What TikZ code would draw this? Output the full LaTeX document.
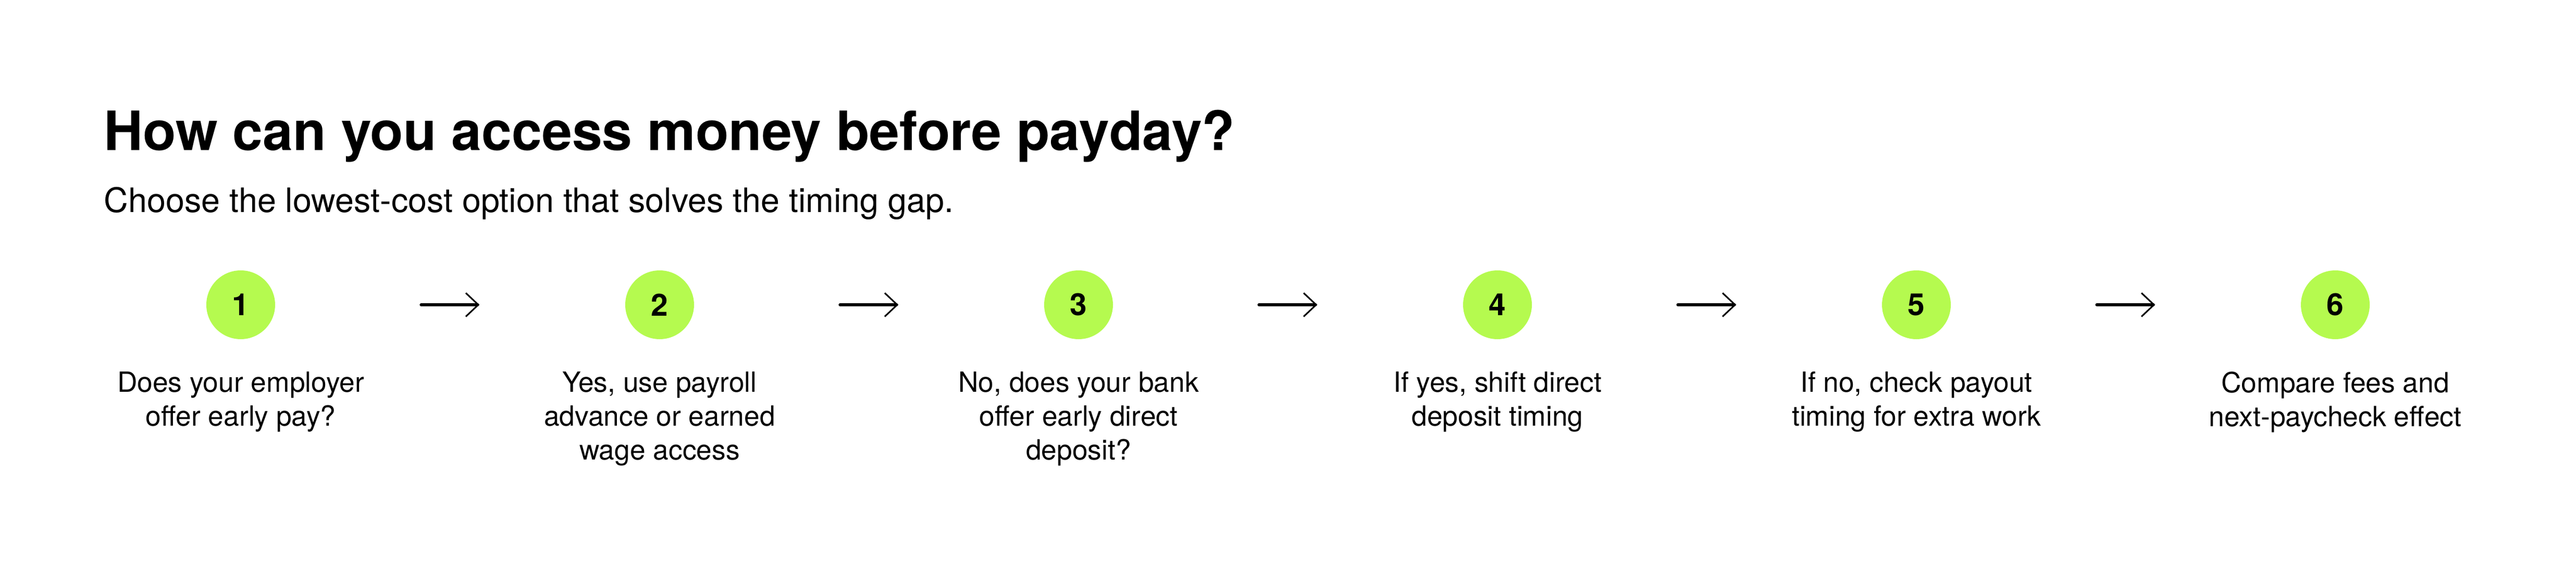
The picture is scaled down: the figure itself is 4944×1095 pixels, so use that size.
\documentclass[tikz,border=0pt]{standalone}
\usepackage{fontspec}
\setmainfont{TeX Gyre Heros}
\usetikzlibrary{arrows.meta}
\definecolor{stepgreen}{RGB}{181,250,79}
\tikzset{every picture/.style={line width=0.75pt}}

\begin{document}
\begin{tikzpicture}[x=0.15pt,y=0.15pt,yscale=-1,xscale=1,
  stepdot/.style={circle,fill=stepgreen,minimum size=19.8pt,inner sep=0pt,font=\bfseries\fontsize{8.8}{10}\selectfont},
  steptext/.style={anchor=north,align=center,inner sep=0pt,font=\fontsize{8}{9.75}\selectfont},
  flow/.style={line width=0.95pt,line cap=round,-{Straight Barb[length=3.6pt,width=6.8pt,line width=0.45pt]},shorten <=41.7pt,shorten >=41.6pt}]
%set diagram left start at 0, and has height of 1095
\useasboundingbox (0,0) rectangle (4944,1095);

% Text Node
\node (title) at (197,288) [anchor=base west,inner sep=0pt,font=\bfseries\fontsize{15.6}{18}\selectfont] {How can you access money before payday?};
% Text Node
\node (subtitle) at (197,407) [anchor=base west,inner sep=0pt,font=\fontsize{9.7}{12}\selectfont] {Choose the lowest-cost option that solves the timing gap.};

%Shape: Circle
\node (c1) at (462,585) [stepdot] {1};
%Shape: Circle
\node (c2) at (1266,585) [stepdot] {2};
%Shape: Circle
\node (c3) at (2070,585) [stepdot] {3};
%Shape: Circle
\node (c4) at (2874,585) [stepdot] {4};
%Shape: Circle
\node (c5) at (3678,585) [stepdot] {5};
%Shape: Circle
\node (c6) at (4482,585) [stepdot] {6};

%Straight Lines
\draw [flow] (c1) -- (c2);
%Straight Lines
\draw [flow] (c2) -- (c3);
%Straight Lines
\draw [flow] (c3) -- (c4);
%Straight Lines
\draw [flow] (c4) -- (c5);
%Straight Lines
\draw [flow] (c5) -- (c6);

% Text Node
\node (t1) at (462,711) [steptext] {Does your employer\\offer early pay?};
% Text Node
\node (t2) at (1266,711) [steptext] {Yes, use payroll\\advance or earned\\wage access};
% Text Node
\node (t3) at (2070,711) [steptext] {No, does your bank\\offer early direct\\deposit?};
% Text Node
\node (t4) at (2874,711) [steptext] {If yes, shift direct\\deposit timing};
% Text Node
\node (t5) at (3678,711) [steptext] {If no, check payout\\timing for extra work};
% Text Node
\node (t6) at (4482,711) [steptext] {Compare fees and\\next-paycheck effect};

\end{tikzpicture}
\end{document}
